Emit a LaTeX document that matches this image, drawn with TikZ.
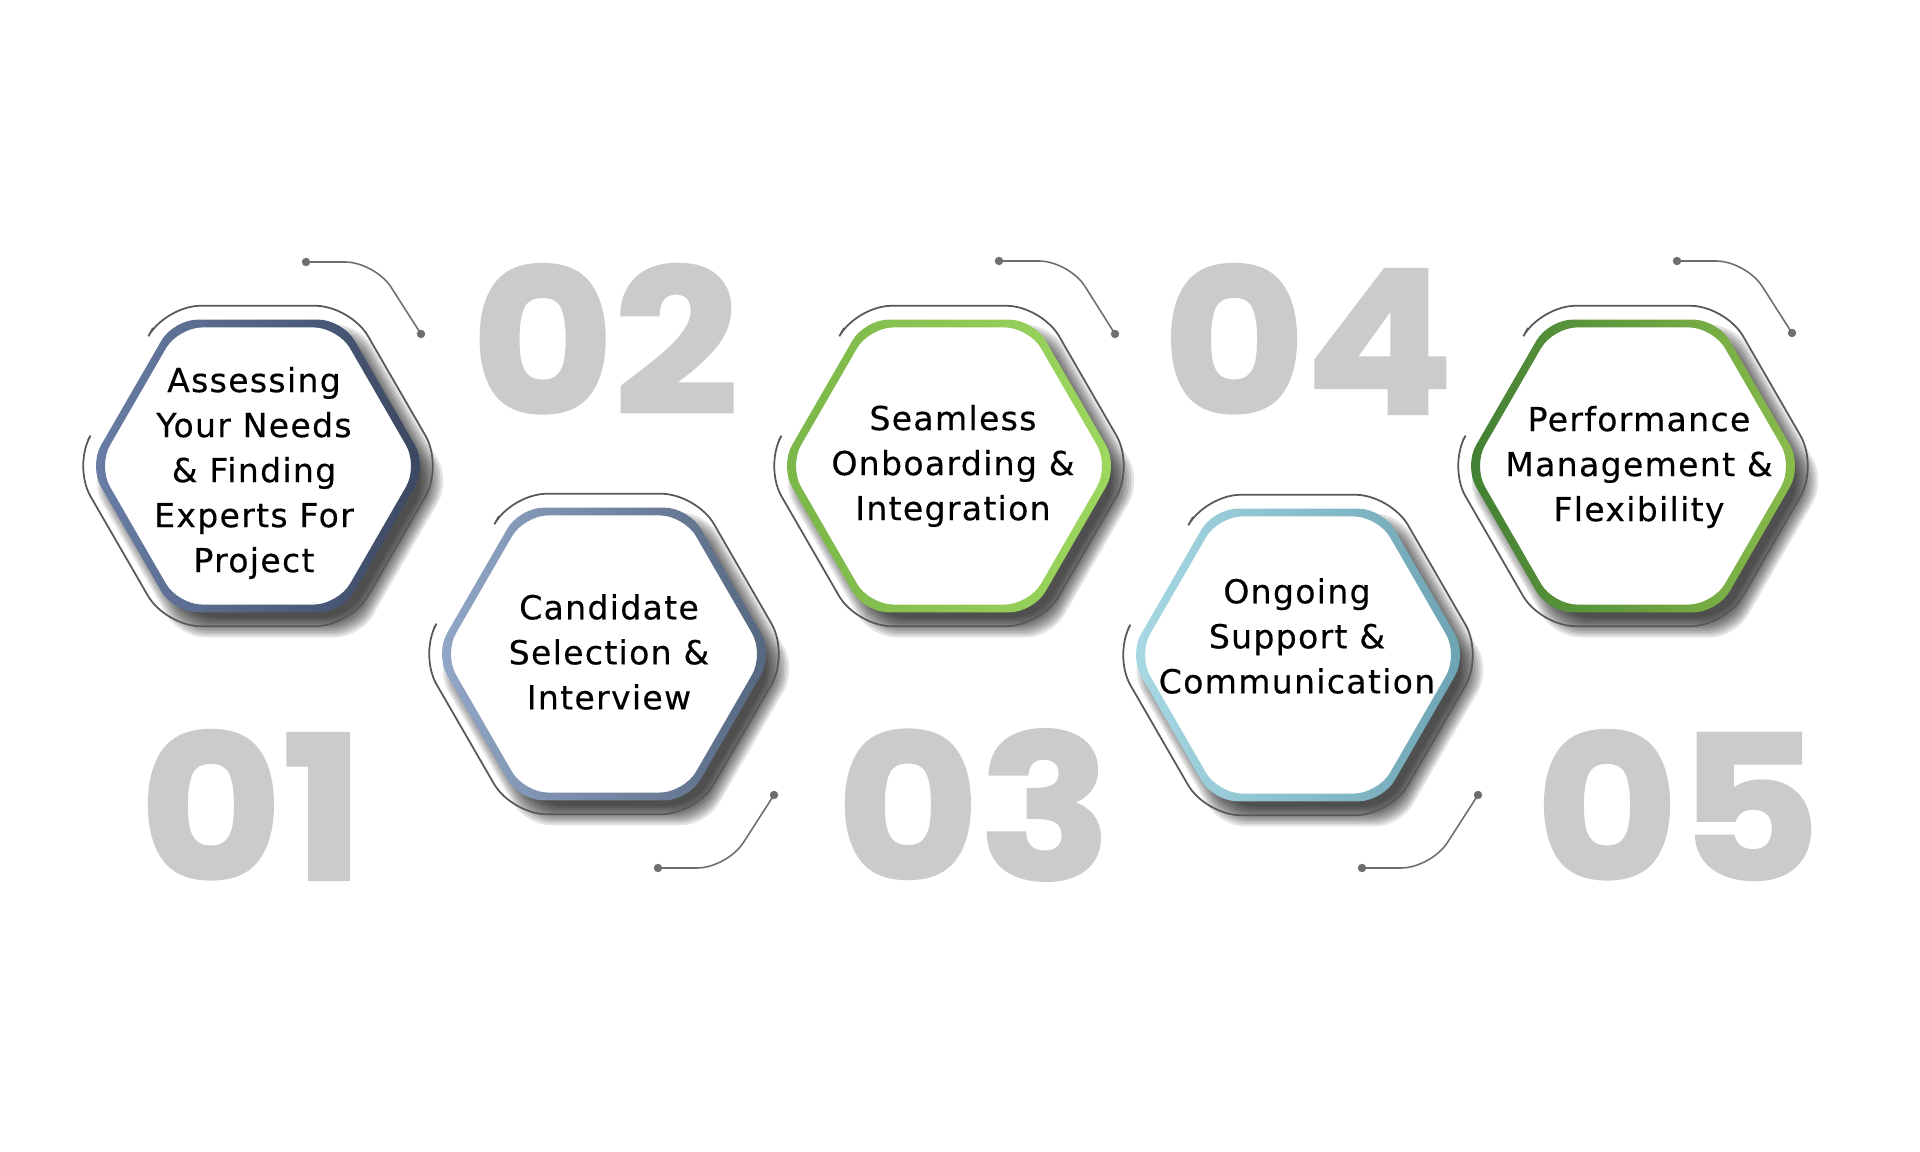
\documentclass[tikz,border=0pt]{standalone}
\usepackage{fontspec}
\setmainfont{DejaVu Sans}[LetterSpace=4,FakeBold=0.4]
\newfontfamily\numfont{Poppins}[BoldFeatures={FakeBold=1.5}]
\usetikzlibrary{positioning}

% ring colours (left / right end of the gradient)
\definecolor{ringAl}{HTML}{6A7EA6}
\definecolor{ringAr}{HTML}{3A4760}
\definecolor{ringBl}{HTML}{93A8C9}
\definecolor{ringBr}{HTML}{55667F}
\definecolor{ringCl}{HTML}{7AB648}
\definecolor{ringCr}{HTML}{9ED85F}
\definecolor{ringDl}{HTML}{A8D9E5}
\definecolor{ringDr}{HTML}{6CA3B2}
\definecolor{ringEl}{HTML}{417F33}
\definecolor{ringEr}{HTML}{8ABD4B}
\definecolor{numgrey}{HTML}{CBCBCB}
\definecolor{decogrey}{HTML}{6E6E6E}

% hexagon with points left and right, started mid top edge
\newcommand{\hexshape}[1]{(270:{0.866*(#1)}) -- (300:{#1}) -- (0:{#1}) -- (60:{#1}) -- (120:{#1}) -- (180:{#1}) -- (240:{#1}) -- cycle}
% wide step number
\newcommand{\stepnum}[1]{\scalebox{1.09}[1]{#1}}

\begin{document}
\begin{tikzpicture}[x=0.01cm,y=-0.01cm,
	hextext/.style={align=center,text=black,font=\fontsize{9.4}{12.8}\selectfont},
	bignum/.style={text=numgrey,font=\numfont\bfseries\fontsize{57}{57}\selectfont},
	deco/.style={draw=decogrey,line width=0.45pt,rounded corners=0.3cm},
	decodot/.style={fill=decogrey}]
	\useasboundingbox (0,0) rectangle (1920,1152);
	% big step numbers
	\node[bignum] (n1) at (252,805) {\stepnum{01}};
	\node[bignum] (n2) at (605,339) {\stepnum{02}};
	\node[bignum] (n3) at (974,805) {\stepnum{03}};
	\node[bignum] (n4) at (1308,339) {\stepnum{04}};
	\node[bignum] (n5) at (1678,805) {\stepnum{05}};
	% small corner lines
	\foreach \ax/\ay/\bx/\ex/\ey [count=\i] in {306/262/375/421/334, 658/868/727/774/795, 999/261/1069/1115/334, 1362/868/1431/1478/795, 1677/261/1746/1792/333} {
		\coordinate (d\i a) at (\ax,\ay);
		\coordinate (d\i b) at (\bx,\ay);
		\coordinate (d\i c) at (\ex,\ey);
		\draw[deco] (d\i a) -- (d\i b) -- (d\i c);
		\fill[decodot] (d\i a) circle[radius=1.2pt] (d\i c) circle[radius=1.2pt];
	}
	% hexagons: shadow, white face, coloured ring, open outline
	\foreach \cx/\cy/\ca/\cb in {258/466/ringAl/ringAr, 604/654/ringBl/ringBr, 949/466/ringCl/ringCr, 1298/655/ringDl/ringDr, 1633/466/ringEl/ringEr} {
		\begin{scope}[shift={(\cx,\cy)}]
			% - soft shadow
			\foreach \k in {0,...,9}
				\fill[black,opacity=0.11,rounded corners=0.25cm,shift={(12,15)}] \hexshape{158+2.5*\k};
			% - white face
			\fill[white,rounded corners=0.22cm] \hexshape{162};
			% - ring
			\shade[left color=\ca,right color=\cb,even odd rule,rounded corners=0.24cm] \hexshape{169} \hexshape{160};
			% - outline, open on the upper left
			\draw[decogrey!80!black,line width=0.5pt,rounded corners=0.35cm] (-105,-138) -- (240:185) -- (300:185) -- (0:185) -- (60:185) -- (120:185) -- (180:185) -- (-170,-26);
		\end{scope}
	}
	% texts
	\node[hextext] (t1) at (254,473) {Assessing\\Your Needs\\\& Finding\\Experts For\\Project};
	\node[hextext] (t2) at (609,652) {Candidate\\Selection \&\\Interview};
	\node[hextext] (t3) at (953,466) {Seamless\\Onboarding \&\\Integration};
	\node[hextext] (t4) at (1297,636) {Ongoing\\Support \&\\Communication};
	\node[hextext] (t5) at (1639,467) {Performance\\Management \&\\Flexibility};
\end{tikzpicture}
\end{document}
